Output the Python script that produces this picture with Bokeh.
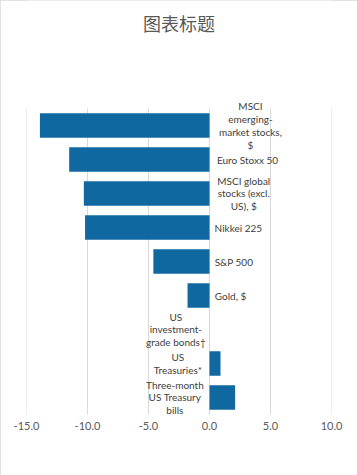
from bokeh.plotting import figure
from bokeh.models import ColumnDataSource, Range1d, FixedTicker, PrintfTickFormatter
from bokeh.core.properties import value
from bokeh.embed import file_html
from bokeh.resources import INLINE

categories = [
    "MSCI\nemerging-\nmarket stocks,\n$",
    "Euro Stoxx 50",
    "MSCI global\nstocks (excl.\nUS), $",
    "Nikkei 225",
    "S&P 500",
    "Gold, $",
    "US\ninvestment-\ngrade bonds\u2020",
    "US\nTreasuries*",
    "Three-month\nUS Treasury\nbills",
]
values = [-13.9, -11.5, -10.3, -10.2, -4.6, -1.8, 0.0, 0.9, 2.1]
x_ticks = [-15, -10, -5, 0, 5, 10]
title_text = "图表标题"

FONT = "Lato"
FS = 10

def char_w(c):
    if c in "iIl.,;:|!'j()[]":
        return 0.24
    if c == " ":
        return 0.23
    if c in "mwMW":
        return 0.82
    if c.isupper():
        return 0.6
    if c.isdigit():
        return 0.52
    return 0.5

def block_width(label):
    return max(sum(char_w(c) for c in line) for line in label.split("\n")) * FS

n = len(categories)
offsets = []
for lab, v in zip(categories, values):
    w = block_width(lab)
    offsets.append(7 + w / 2 if v < 0 else -(5 + w / 2))

ypos = [n - i - 0.5 for i in range(n)]
src = ColumnDataSource(dict(y=ypos, v=values, label=categories, zero=[0] * n, xo=offsets))

W, H = 357, 475
TOP_PAD, PLOT_BOTTOM, SIDE = 108, 61, 26
EXTRA = 5  # extra frame room below the bars so that wrapped labels are not cut
band = (H - TOP_PAD - PLOT_BOTTOM) / n
y_top = n + TOP_PAD / band

p = figure(
    width=W, height=H,
    x_range=Range1d(x_ticks[0], x_ticks[-1]),
    y_range=Range1d(-EXTRA / band, y_top),
    output_backend="svg", toolbar_location=None,
    min_border_left=SIDE, min_border_right=SIDE, min_border_top=0, min_border_bottom=PLOT_BOTTOM - EXTRA,
)
p.styles = {"outline": "1px solid #D9D9D9", "outline-offset": "-1px"}

p.segment(x0=x_ticks, y0=[0] * len(x_ticks), x1=x_ticks, y1=[n] * len(x_ticks),
          line_color="#D9D9D9", line_width=1)
p.hbar(y="y", left="zero", right="v", height=0.72, source=src, color="#1068A1", line_color=None)
p.text(x="zero", y="y", text="label", x_offset="xo", source=src,
       text_align="center", text_baseline="middle",
       text_font=value(FONT), text_font_size=f"{FS}px", text_color="#404040", text_line_height=1.08)

p.text(x=[(x_ticks[0] + x_ticks[-1]) / 2], y=[n + (TOP_PAD - 22) / band], text=[title_text],
       text_align="center", text_baseline="middle",
       text_font=value("Noto Sans CJK SC"), text_font_size="18px", text_color="#595959")

p.yaxis.visible = False
p.ygrid.visible = False
p.xgrid.visible = False
p.xaxis.ticker = FixedTicker(ticks=x_ticks)
p.xaxis.formatter = PrintfTickFormatter(format="%.1f")
p.xaxis.axis_line_color = None
p.xaxis.major_tick_line_color = None
p.xaxis.minor_tick_line_color = None
p.xaxis.major_label_standoff = -4
p.xaxis.major_label_text_font = FONT
p.xaxis.major_label_text_font_size = "11px"
p.xaxis.major_label_text_color = "#595959"
p.outline_line_color = None

open("out.html", "w").write(file_html(p, INLINE))
